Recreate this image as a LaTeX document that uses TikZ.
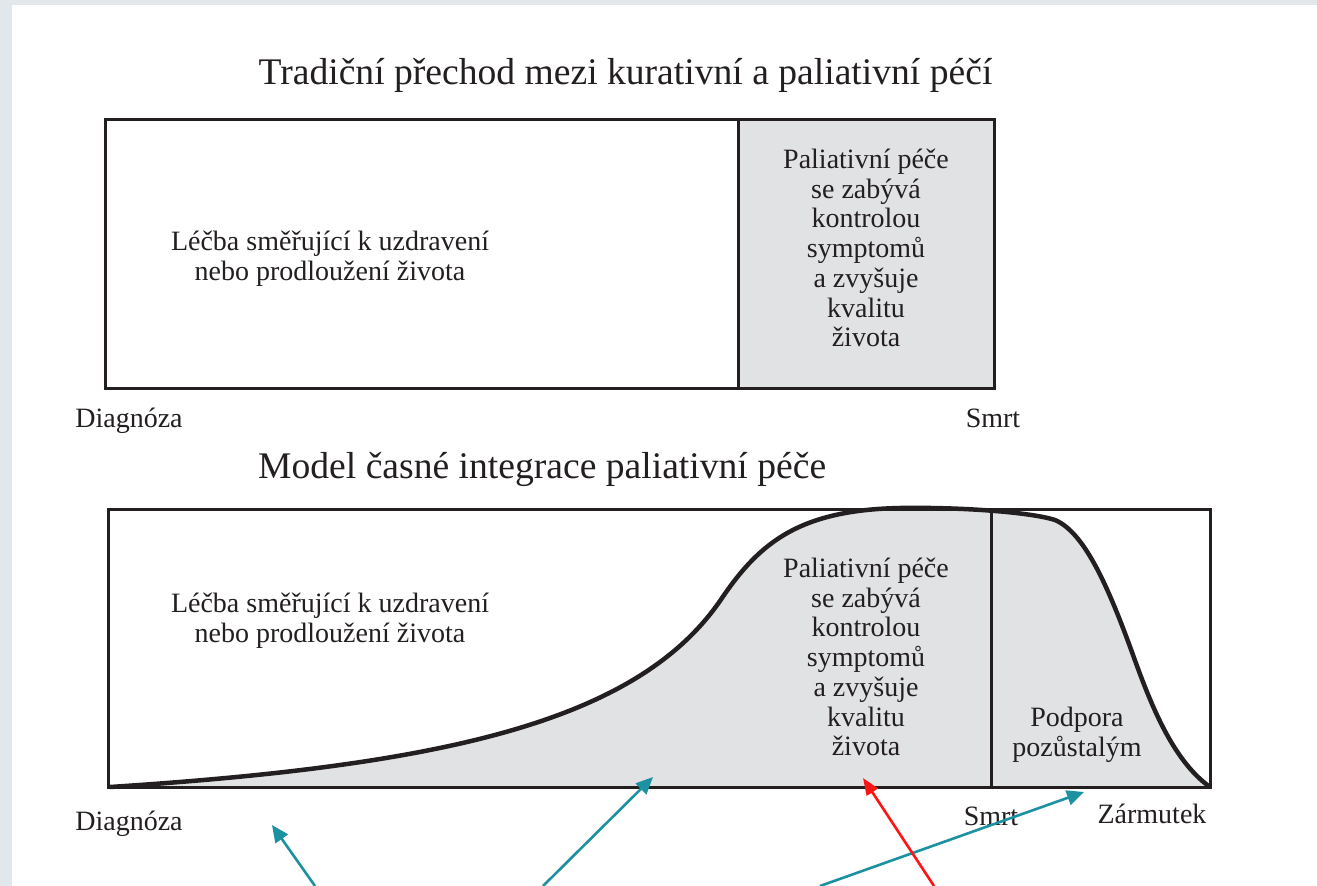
\documentclass[tikz,border=0pt]{standalone}
\usepackage{fontspec}
\setmainfont{Liberation Serif}
\usetikzlibrary{arrows.meta}
\definecolor{stripgrey}{HTML}{E2E7EC}
\definecolor{stripmid}{HTML}{B8C6D3}
\definecolor{boxgrey}{HTML}{E1E2E4}
\definecolor{arrowteal}{HTML}{1C91A2}
\definecolor{arrowred}{HTML}{FF1414}
\definecolor{inkline}{HTML}{231F20}
\begin{document}
\begin{tikzpicture}[x=1pt,y=-1pt,
  bodytext/.style={font=\fontsize{28}{29.7}\selectfont, align=center, inner sep=0pt, text=inkline},
  titletext/.style={font=\fontsize{37.6}{40}\selectfont, inner sep=0pt, text=inkline},
  frame/.style={draw=inkline, line width=3pt},
  curveline/.style={draw=inkline, line width=4.5pt},
  tealarrow/.style={draw=arrowteal, line width=2.6pt, -{Triangle[length=17pt,width=15pt]}},
  redarrow/.style={draw=arrowred, line width=2.6pt, -{Triangle[length=17pt,width=13pt]}}]
\useasboundingbox (0,0) rectangle (1317,886);
% background
\fill[stripgrey] (0,0) rectangle (1317,886);
\shade[top color=stripgrey, middle color=stripmid, bottom color=stripgrey] (0,0) rectangle (12,886);
\fill[white] (12,5) rectangle (1317,886);

% ---- top panel ----
\node[titletext, anchor=base] (t1) at (625.5,84) {Tradiční přechod mezi kurativní a paliativní péčí};
\fill[boxgrey] (738,119) rectangle (994,388);
\draw[frame] (105,119) rectangle (994,388);
\draw[frame] (738,119) -- (738,388);
\node[bodytext] (cur1) at (330,258.5) {Léčba směřující k uzdravení\\nebo prodloužení života};
\node[bodytext] (pal1) at (866,248) {Paliativní péče\\se zabývá\\kontrolou\\symptomů\\a zvyšuje\\kvalitu\\života};
\node[bodytext, anchor=base] (dg1) at (129,427) {Diagnóza};
\node[bodytext, anchor=base] (sm1) at (993,427) {Smrt};

% ---- bottom panel ----
\node[titletext, anchor=base west] (t2) at (258,478) {Model časné integrace paliativní péče};
\def\curvepath{(110,787) .. controls (450,765) and (640,720) .. (722,598)
  .. controls (760,542) and (800,510) .. (900,508)
  .. controls (960,507) and (1030,512) .. (1055,520)
  .. controls (1083,532) and (1106,580) .. (1133,655)
  .. controls (1150,702) and (1172,760) .. (1210,787)}
\fill[boxgrey] \curvepath -- cycle;
\draw[frame] (108,509) rectangle (1210,787);
\draw[frame] (991,509) -- (991,787);
\draw[curveline] \curvepath;
\node[bodytext] (cur2) at (330,621) {Léčba směřující k uzdravení\\nebo prodloužení života};
\node[bodytext] (pal2) at (866,657) {Paliativní péče\\se zabývá\\kontrolou\\symptomů\\a zvyšuje\\kvalitu\\života};
\node[bodytext] (pod) at (1077,735) {Podpora\\pozůstalým};
\node[bodytext, anchor=base] (dg2) at (129,830) {Diagnóza};
\node[bodytext, anchor=base] (sm2) at (991,825) {Smrt};
\node[bodytext, anchor=base] (zm) at (1152,823) {Zármutek};

% ---- arrows ----
\coordinate (a1s) at (315,886); \coordinate (a1e) at (272,825);
\coordinate (a2s) at (543,886); \coordinate (a2e) at (653,777);
\coordinate (a3s) at (820,886); \coordinate (a3e) at (1084,792);
\coordinate (a4s) at (934,886); \coordinate (a4e) at (863,778);
\draw[tealarrow] (a1s) -- (a1e);
\draw[tealarrow] (a2s) -- (a2e);
\draw[tealarrow] (a3s) -- (a3e);
\draw[redarrow] (a4s) -- (a4e);
\end{tikzpicture}
\end{document}
